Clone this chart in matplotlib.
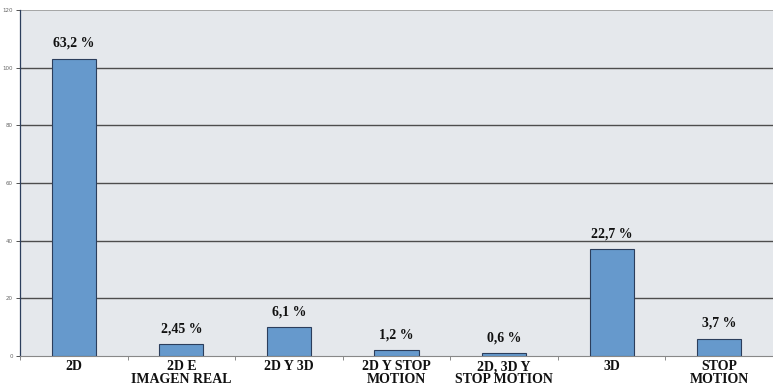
import matplotlib
matplotlib.use("Agg")
import matplotlib.pyplot as plt
import numpy as np

categories = ["2D", "2D E\nIMAGEN REAL", "2D Y 3D", "2D Y STOP\nMOTION",
              "2D, 3D Y\nSTOP MOTION", "3D", "STOP\nMOTION"]
counts = [103, 4, 10, 2, 1, 37, 6]
pct_labels = ["63,2 %", "2,45 %", "6,1 %", "1,2 %", "0,6 %", "22,7 %", "3,7 %"]
y_ticks = [0, 20, 40, 60, 80, 100, 120]

fig = plt.figure(figsize=(7.73, 3.86), dpi=100)
ax = fig.add_axes([20 / 773, 30 / 386, 753 / 773, 346 / 386])
ax.set_facecolor("#e5e8ec")

x = np.arange(len(categories))
ax.bar(x, counts, width=0.41, color="#6699cc", edgecolor="#2c3e5c",
       linewidth=0.8, zorder=3)

for xi, c, lab in zip(x, counts, pct_labels):
    ax.annotate(lab, (xi, c), xytext=(0, 6.5), textcoords="offset points",
                ha="center", va="bottom", fontsize=10, fontweight="bold",
                family="Liberation Serif", color="#111111")

ax.set_xlim(-0.5, len(categories) - 0.5)
ax.set_ylim(0, 120)
ax.set_yticks(y_ticks)
ax.set_yticklabels([str(v) for v in y_ticks], fontsize=4, color="#666666")
ax.tick_params(axis="y", length=3, width=0.6, color="#333333", pad=2)

# category labels centred on bars, ticks on category boundaries
ax.set_xticks(x)
ax.set_xticklabels(categories, fontsize=10, fontweight="bold",
                   family="Liberation Serif", color="#111111", linespacing=0.95)
ax.tick_params(axis="x", length=0, pad=3)
ax.set_xticks(np.arange(len(categories) + 1) - 0.5, minor=True)
ax.tick_params(axis="x", which="minor", length=3, width=0.6, color="#777777")

for v in y_ticks[1:-1]:
    ax.axhline(v, color="#4d4d4d", linewidth=1.0, zorder=1)
ax.axhline(120, color="#9a9a9a", linewidth=1.2, zorder=1)

for side in ["top", "right"]:
    ax.spines[side].set_visible(False)
ax.spines["left"].set_color("#2c3e5c")
ax.spines["left"].set_linewidth(0.9)
ax.spines["bottom"].set_color("#888888")
ax.spines["bottom"].set_linewidth(0.8)

fig.savefig("out.png", dpi=100)
